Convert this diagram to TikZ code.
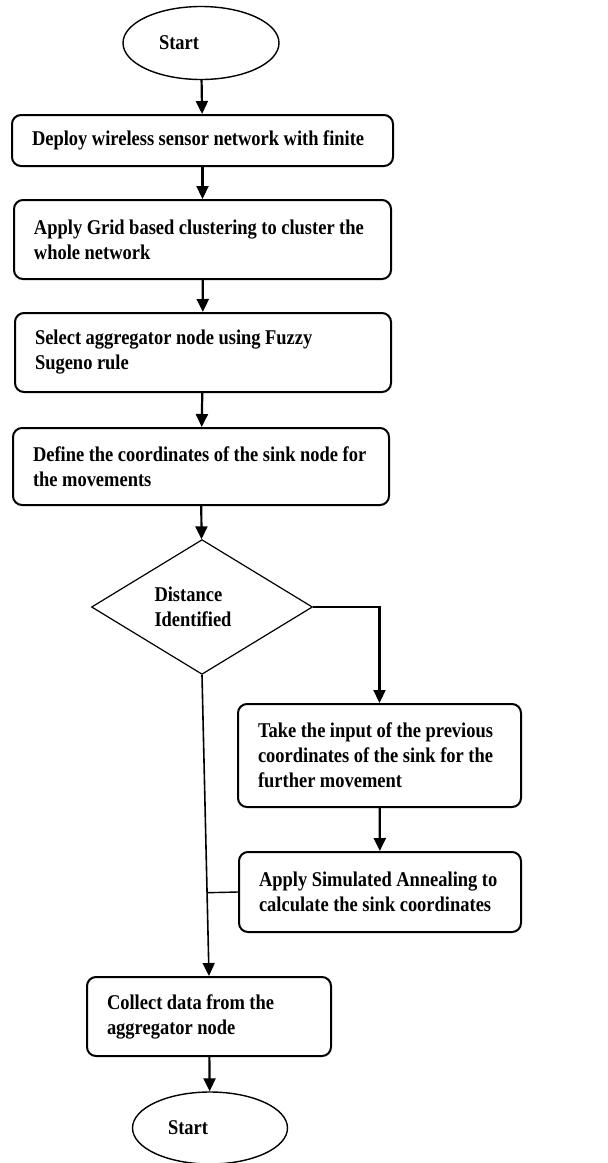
\documentclass[tikz,border=0pt]{standalone}
\usepackage{fontspec}
\setmainfont{Liberation Serif}[FakeStretch=0.88]
\usepackage{tikz}
\usetikzlibrary{arrows.meta,shapes.geometric,calc}
\newcommand\flowfont{\fontsize{21}{25}\selectfont\bfseries\spaceskip=4.5pt plus 1pt minus 1pt\relax}

\begin{document}
\begin{tikzpicture}[
    x=1pt, y=-1pt,
    every node/.style={font=\flowfont, align=flush left},
    procbox/.style={rectangle, draw, line width=2pt, rounded corners=9pt, inner xsep=20pt, inner ysep=0pt},
    terminal/.style={ellipse, draw, line width=1.4pt, inner sep=0pt, text width=84pt, minimum width=156pt, minimum height=73pt},
    decision/.style={diamond, draw, line width=1.2pt, inner sep=0pt, text width=95pt, minimum width=221pt, minimum height=134pt},
    arrow/.style={draw, line width=2.2pt, -{Triangle[length=13pt,width=12pt]}},
    link/.style={draw, line width=1.4pt}
  ]
  \useasboundingbox (0,0) rectangle (608,1163);

  \node[terminal] (start) at (201,43) {Start};
  \node[procbox, text width=341pt, minimum height=51pt] (deploy) at (202.5,140.5) {Deploy wireless sensor network with finite};
  \node[procbox, text width=337pt, minimum height=79pt] (grid) at (202.5,239.5) {Apply Grid based clustering to cluster the\\whole network};
  \node[procbox, text width=336pt, minimum height=79pt] (select) at (203,352.5) {Select aggregator node using Fuzzy\\Sugeno rule};
  \node[procbox, text width=336pt, minimum height=77pt] (define) at (201,466.5) {Define the coordinates of the sink node for\\the movements};
  \node[decision] (dist) at (202,607) {Distance\\Identified};
  \node[procbox, text width=243pt, minimum height=103pt] (prev) at (379.5,755.5) {Take the input of the previous\\coordinates of the sink for the\\further movement};
  \node[procbox, text width=242pt, minimum height=80pt] (anneal) at (380,892) {Apply Simulated Annealing to\\calculate the sink coordinates};
  \node[procbox, text width=204pt, minimum height=79pt] (collect) at (209,1016.5) {Collect data from the\\aggregator node};
  \node[terminal, minimum width=155pt, minimum height=72pt] (stop) at (210,1128) {Start};

  % main flow
  \draw[arrow] (start) -- (deploy);
  \draw[arrow] (deploy) -- (grid);
  \draw[arrow] (grid) -- (select);
  \draw[arrow] (select) -- (define);
  \draw[arrow] (define) -- (dist);
  \draw[arrow] (dist.east) -| (prev.north);
  \draw[arrow] (prev) -- (anneal);
  \draw[arrow, line width=1.6pt] (dist.south) -- (collect.north);
  \coordinate (join) at ($(dist.south)!(anneal.west)!(collect.north)$);
  \draw[link] (anneal.west) -- (join);
  \draw[arrow] (collect) -- (stop);
\end{tikzpicture}
\end{document}
